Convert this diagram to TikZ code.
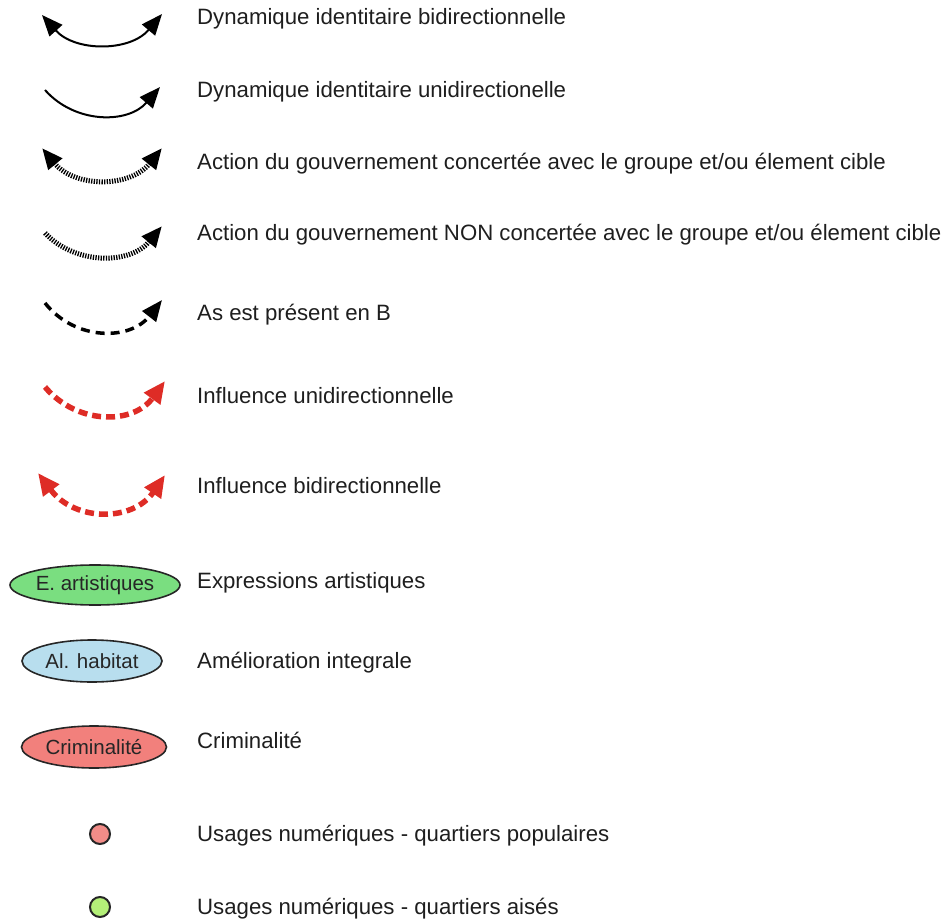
\documentclass[tikz,border=0pt]{standalone}
\usepackage{fontspec}
\setmainfont{Liberation Sans}
\usetikzlibrary{arrows.meta,shapes.geometric}
\definecolor{infred}{RGB}{222,44,38}
\definecolor{elgreen}{RGB}{122,222,128}
\definecolor{elblue}{RGB}{184,222,238}
\definecolor{elred}{RGB}{242,128,124}
\definecolor{dotpink}{RGB}{242,140,136}
\definecolor{dotgreen}{RGB}{180,240,120}
\definecolor{txt}{RGB}{30,30,30}
\tikzset{
  tipk/.tip={Triangle[length=21pt,width=17pt]},
  tipr/.tip={Triangle[length=22pt,width=19pt]},
  lbl/.style={anchor=base west, font=\fontsize{22.2}{25}\selectfont, text=txt, inner sep=0pt},
  solidarr/.style={line width=2pt, black},
  dotarr/.style={line width=5pt, black, dash pattern=on 1.3pt off 1.3pt},
  dasharr/.style={line width=3.5pt, black, dash pattern=on 9pt off 6pt},
  redarr/.style={line width=5.5pt, infred, dash pattern=on 9pt off 5pt},
  ell/.style={ellipse, draw=black!85, line width=1.6pt, inner sep=0pt, font=\fontsize{20.5}{23}\selectfont, text=black!85},
  dotc/.style={circle, draw=black!85, line width=2pt, minimum size=20pt, inner sep=0pt}
}
\begin{document}
\begin{tikzpicture}[x=1pt,y=-1pt]
\useasboundingbox (0,0) rectangle (948,920);
% row 1
\coordinate (a1) at (42,15); \coordinate (b1) at (162,14);
\draw[solidarr, tipk-tipk] (a1) .. controls (75,52) and (130,52) .. (b1);
\node[lbl] (t1) at (197,25) {Dynamique identitaire bidirectionnelle};
% row 2
\coordinate (a2) at (45,90); \coordinate (b2) at (160,87);
\draw[solidarr, -tipk] (a2) .. controls (75,124) and (128,124) .. (b2);
\node[lbl] (t2) at (197,98) {Dynamique identitaire unidirectionelle};
% row 3
\coordinate (a3) at (42,148); \coordinate (b3) at (162,148);
\draw[dotarr, tipk-tipk] (a3) .. controls (75,188) and (130,188) .. (b3);
\node[lbl] (t3) at (197,170) {Action du gouvernement concertée avec le groupe et/ou élement cible};
% row 4
\coordinate (a4) at (45,233); \coordinate (b4) at (162,226);
\draw[dotarr, -tipk] (a4) .. controls (75,265) and (130,265) .. (b4);
\node[lbl] (t4) at (197,241) {Action du gouvernement NON concertée avec le groupe et/ou élement cible};
% row 5
\coordinate (a5) at (45,303); \coordinate (b5) at (162,300);
\draw[dasharr, -tipk] (a5) .. controls (75,341) and (130,341) .. (b5);
\node[lbl] (t5) at (197,320) {As est présent en B};
% row 6
\coordinate (a6) at (45,387); \coordinate (b6) at (165,381);
\draw[redarr, -tipr] (a6) .. controls (77,425) and (133,425) .. (b6);
\node[lbl] (t6) at (197,403) {Influence unidirectionnelle};
% row 7
\coordinate (a7) at (38,473); \coordinate (b7) at (165,475);
\draw[redarr, tipr-tipr] (a7) .. controls (75,522) and (133,522) .. (b7);
\node[lbl] (t7) at (197,493) {Influence bidirectionnelle};
% ellipses
\node[ell, fill=elgreen, minimum width=170pt, minimum height=40pt] (e1) at (95,585) {E. artistiques};
\node[lbl] (t8) at (197,588) {Expressions artistiques};
\node[ell, fill=elblue, minimum width=140pt, minimum height=42pt] (e2) at (92,661) {Al. habitat};
\node[lbl] (t9) at (197,668) {Amélioration integrale};
\node[ell, fill=elred, minimum width=145pt, minimum height=42pt] (e3) at (94,747) {Criminalité};
\node[lbl] (t10) at (197,748) {Criminalité};
% circles
\node[dotc, fill=dotpink] (c1) at (100,834) {};
\node[lbl] (t11) at (197,841) {Usages numériques - quartiers populaires};
\node[dotc, fill=dotgreen] (c2) at (100,907) {};
\node[lbl] (t12) at (197,914) {Usages numériques - quartiers aisés};
\end{tikzpicture}
\end{document}
